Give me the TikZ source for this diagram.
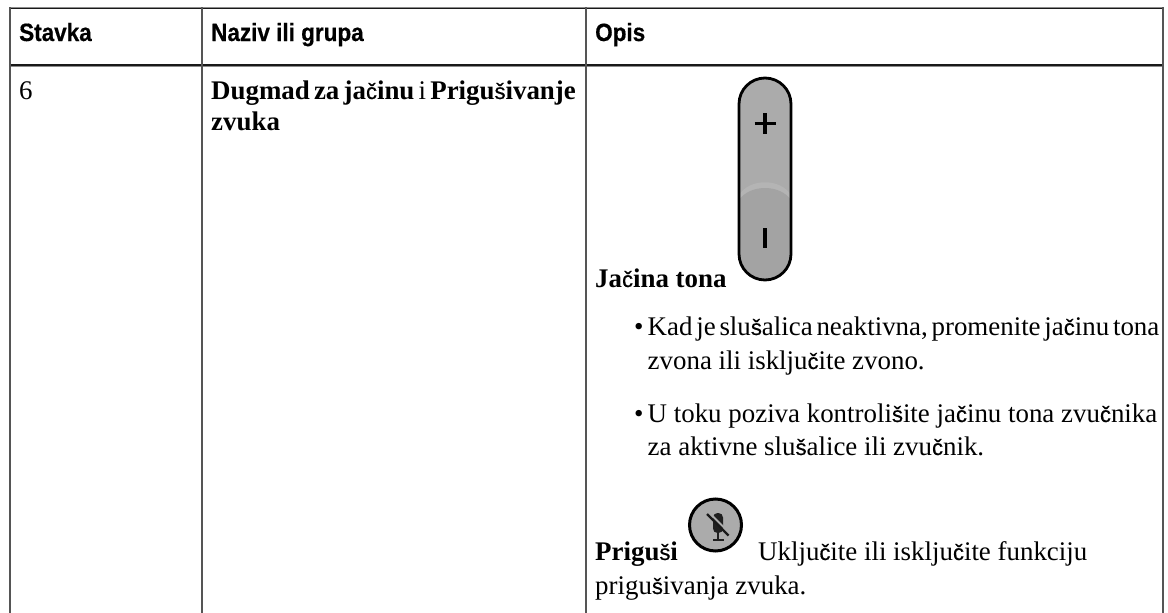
\documentclass[tikz,border=0pt]{standalone}
\usepackage{fontspec}
\setmainfont{Liberation Serif}
\newfontfamily\headfont[FakeStretch=0.9,FakeBold=0.5,UprightFont=* Bold,BoldFont=* Bold]{Liberation Sans}
\newfontfamily\diafont[FakeBold=0.5]{Liberation Sans}
\newcommand{\czc}{{\diafont\mdseries\fontsize{22}{22}\selectfont č}}
\newcommand{\czs}{{\diafont\mdseries\fontsize{22}{22}\selectfont š}}
\definecolor{rulegray}{HTML}{555555}
\definecolor{btngray}{HTML}{ABABAB}
\definecolor{btnlow}{HTML}{A3A3A3}
\definecolor{btnlight}{HTML}{B4B4B4}
\tikzset{
 vrule/.style={draw=rulegray,line width=2pt},
 hrule/.style={draw=black!90,line width=1.2pt},
 hshade/.style={draw=black!45,line width=1pt},
 head/.style={anchor=base west,inner sep=0pt,font={\headfont\fontsize{25}{25}\selectfont}},
 body/.style={anchor=base west,inner sep=0pt,font={\fontsize{26.9}{26.9}\selectfont}},
 bodyb/.style={anchor=base west,inner sep=0pt,font={\bfseries\fontsize{26.9}{26.9}\selectfont}},
}
\begin{document}
\begin{tikzpicture}[x=1pt,y=-1pt]
\useasboundingbox (0,0) rectangle (1168,613);
\fill[white] (0,0) rectangle (1168,613);
\coordinate (tl) at (10,8.5); \coordinate (tr) at (1163,8.5);
\coordinate (tls) at (10,7.5); \coordinate (trs) at (1163,7.5);
\coordinate (hl) at (10,65); \coordinate (hr) at (1163,65);
\coordinate (hls) at (10,66.2); \coordinate (hrs) at (1163,66.2);
\coordinate (l1t) at (10,7); \coordinate (l1b) at (10,613);
\coordinate (c1t) at (202,7); \coordinate (c1b) at (202,613);
\coordinate (c2t) at (586,7); \coordinate (c2b) at (586,613);
\coordinate (r1t) at (1163,7); \coordinate (r1b) at (1163,613);
\draw[hshade] (tls) -- (trs);
\draw[hshade] (hls) -- (hrs);
\draw[hrule] (tl) -- (tr);
\draw[hrule] (hl) -- (hr);
\draw[vrule] (l1t) -- (l1b);
\draw[vrule] (c1t) -- (c1b);
\draw[vrule] (c2t) -- (c2b);
\draw[vrule] (r1t) -- (r1b);
\node[head] (h1) at (19,41) {Stavka};
\node[head] (h2) at (211,41) {Naziv ili grupa};
\node[head] (h3) at (595,41) {Opis};
\node[body] (n6) at (19,99) {6};
\node[bodyb] (g1) at (211,99) {\spaceskip=4.2pt Dugmad za ja\czc inu \textmd{i} Prigu\czs ivanje};
\node[bodyb] (g2) at (211,130) {zvuka};
\node[bodyb] (j) at (595,287) {Ja\czc ina tona};
% volume button
\begin{scope}
\clip[rounded corners=26] (739,78) rectangle (791,280);
\fill[btngray] (735,70) rectangle (795,285);
\fill[btnlight] (739,195) .. controls (750,178) and (780,178) .. (791,195) -- (791,285) -- (739,285) -- cycle;
\fill[btnlow] (739,200) .. controls (750,184) and (780,184) .. (791,200) -- (791,285) -- (739,285) -- cycle;
\end{scope}
\draw[black,line width=2.8pt,rounded corners=26] (739,78) rectangle (791,280);
\draw[black,line width=3.2pt] (765,113) -- (765,134) (754.5,123.5) -- (775.5,123.5);
\draw[black,line width=3.2pt] (765,228) -- (765,248);
% bullets
\node[body] (b1) at (634,335) {•};
\node[body] (l1) at (647.5,335) {\spaceskip=3.8pt Kad je slu\czs alica neaktivna, promenite ja\czc inu tona};
\node[body] (l2) at (647.5,369) {zvona ili isklju\czc ite zvono.};
\node[body] (b2) at (634,422) {•};
\node[body] (l3) at (647.5,422) {U toku poziva kontroli\czs ite ja\czc inu tona zvu\czc nika};
\node[body] (l4) at (647.5,455) {za aktivne slu\czs alice ili zvu\czc nik.};
\node[bodyb] (p) at (595,560) {Prigu\czs i};
% mute button
\fill[btngray] (715.5,525) circle (26);
\draw[black,line width=3pt] (715.5,525) circle (26);
\fill[black!88,rounded corners=4.5] (713,513) rectangle (723,533);
\draw[black!88,line width=1.6pt] (718,532) -- (718,539);
\fill[black!88] (712.5,538.5) rectangle (723.5,541);
\draw[btngray,line width=2pt] (709.5,513) -- (730.5,534);
\draw[black!90,line width=2.3pt] (707,514) -- (728.5,535.5);
\node[body] (u1) at (758,560) {Uklju\czc ite ili isklju\czc ite funkciju};
\node[body] (u2) at (595,594) {prigu\czs ivanja zvuka.};
\end{tikzpicture}
\end{document}
